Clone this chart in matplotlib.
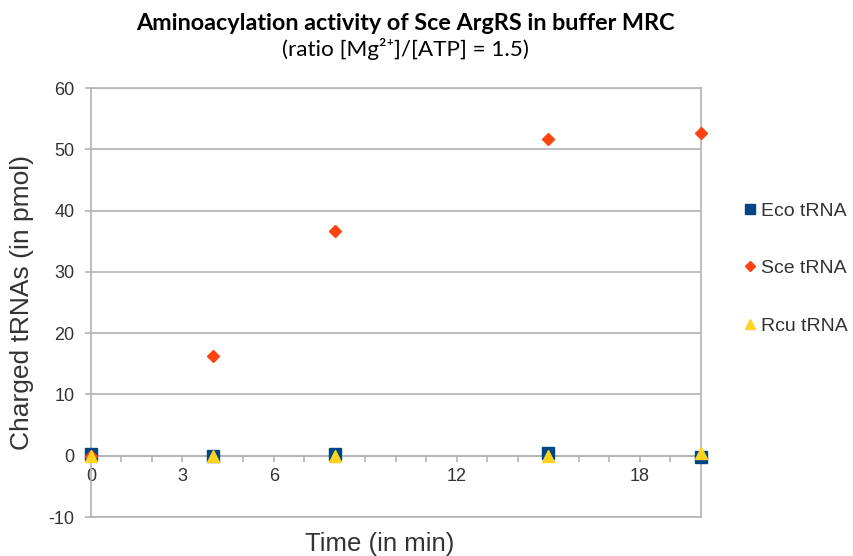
import matplotlib
matplotlib.use("Agg")
import matplotlib.pyplot as plt

plt.rcParams['font.family'] = ['Liberation Sans', 'DejaVu Sans']
plt.rcParams['axes.unicode_minus'] = False

# time points (min) and charged tRNA (pmol)
time_min = [0, 4, 8, 15, 20]
eco_trna = [0.3, 0.0, 0.2, 0.5, -0.2]
sce_trna = [0.0, 16.3, 36.7, 51.6, 52.6]
rcu_trna = [0.0, 0.0, 0.0, 0.0, 0.5]

x_ticks = [0, 3, 6, 12, 18]
y_ticks = [-10, 0, 10, 20, 30, 40, 50, 60]

blue = '#004586'
orange = '#ff420e'
yellow = '#ffd320'
grid_col = '#b3b3b3'
text_col = '#333333'

fig = plt.figure(figsize=(8.54, 5.56), dpi=100)
ax = fig.add_axes([91/854, 39/556, 610/854, 429/556])

ax.set_xlim(0, 20)
ax.set_ylim(-10, 60)

ax.plot(time_min, eco_trna, 's', color=blue, markersize=8.5, label='Eco tRNA', clip_on=False, zorder=3)
ax.plot(time_min, sce_trna, 'D', color=orange, markersize=6.5, label='Sce tRNA', clip_on=False, zorder=4)
ax.plot(time_min, rcu_trna, '^', color=yellow, markersize=9, label='Rcu tRNA', clip_on=False, zorder=5)

# frame and gridlines
for side in ['left', 'right', 'top']:
    ax.spines[side].set_color(grid_col)
    ax.spines[side].set_linewidth(1.2)
ax.spines['bottom'].set_position(('data', 0))
ax.spines['bottom'].set_color(grid_col)
ax.spines['bottom'].set_linewidth(1.2)
ax.axhline(-10, color=grid_col, lw=1.2, clip_on=False, zorder=1)

ax.set_yticks(y_ticks)
ax.yaxis.grid(True, color=grid_col, lw=1.2)
ax.set_axisbelow(True)
ax.tick_params(axis='y', direction='out', length=4, color=grid_col, width=1.2,
               labelsize=13, labelcolor=text_col, pad=8)

ax.set_xticks(x_ticks)
ax.set_xticks(range(0, 21), minor=True)
ax.tick_params(axis='x', which='both', direction='out', length=4, color=grid_col,
               width=1.2, labelsize=13, labelcolor=text_col, pad=5)

fig.text(22/854, 1 - 302/556, 'Charged tRNAs (in pmol)', fontsize=19, color=text_col,
         rotation=90, ha='center', va='center')
fig.text(380/854, 1 - 544/556, 'Time (in min)', fontsize=18.5, color=text_col,
         ha='center', va='center')

fig.text(405/854, 1 - 23/556, 'Aminoacylation activity of Sce ArgRS in buffer MRC',
         fontsize=16.8, fontweight='bold', family=['Lato', 'DejaVu Sans'],
         ha='center', va='center')
fig.text(405/854, 1 - 49/556, '(ratio [Mg²⁺]/[ATP] = 1.5)',
         fontsize=16.2, family=['Lato', 'DejaVu Sans'], ha='center', va='center')

fig.legend(loc='upper left', bbox_to_anchor=(743/854, 1 - 202/556), frameon=False,
           fontsize=14, labelspacing=2.06, handlelength=0.7, handletextpad=0.25,
           borderaxespad=0, borderpad=0, markerscale=0.8, labelcolor=text_col)

fig.savefig('out.png', dpi=100)
